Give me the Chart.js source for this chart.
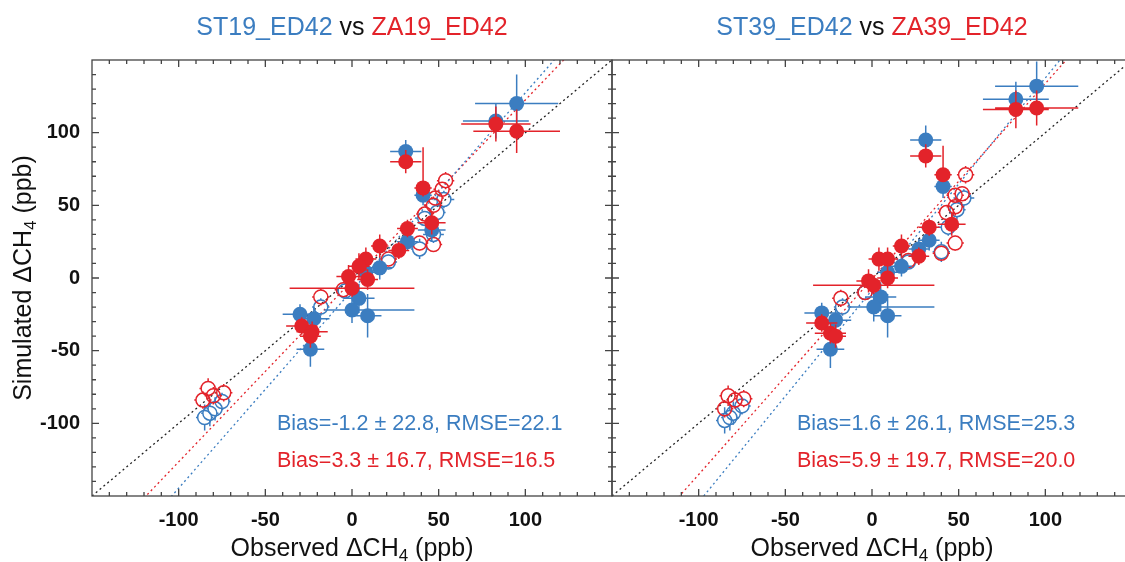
<!DOCTYPE html>
<html>
<head>
<meta charset="utf-8">
<script src="https://cdn.jsdelivr.net/npm/chart.js@4"></script>
<style>
  body { margin: 0; background: #fff; }
  #wrap { position: relative; width: 1125px; height: 562px; overflow: hidden; background: #fff; }
  canvas { position: absolute; top: 0; }
</style>
</head>
<body>
<div id="wrap">
  <canvas id="left" width="614" height="562" style="left:0"></canvas>
  <canvas id="right" width="522" height="562" style="left:611px"></canvas>
</div>
<script>
var BLUE = '#3b7dc0';
var RED = '#e3232a';
var FONT = '"Liberation Sans", Arial, sans-serif';

var tickValues = [-100, -50, 0, 50, 100];

// each point: [observed, simulated, xErr, yErr]; an error written as [lo, hi] is asymmetric
var st19Filled = [
  [95, 120, 24, 20], [83, 108, 19, 12], [31, 87, 9, 8], [41, 57, 5, 7], [46, 33, 8, 8],
  [32, 25, 6, 6], [16, 7, 7, 8], [8, 4, 6, 6], [4, -14, 9, 10], [0, -22, [16, 36], 9],
  [9, -26, 8, 15], [-30, -25, 10, 7], [-22, -28, 9, 8], [-24, -49, 8, 12]
];
var za19Filled = [
  [83, 106, 20, 12], [95, 101, 25, 15], [31, 80, 9, 8], [41, 62, 5, [6, 28]], [46, 38, 8, 8],
  [32, 34, 6, 6], [27, 19, 6, 6], [16, 22, 5, 8], [8, 13, 6, 8], [4, 8, 6, 9],
  [-2, 1, 7, 8], [0, -7, 36, 6], [9, -1, 6, 7], [-29, -33, 9, 6], [-23, -37, 9, 7], [-24, -40, 6, 8]
];
var st19Open = [
  [53, 54, 6, 6], [49, 45, 5, 7], [47, 30, 6, 6], [39, 20, 5, 7], [42, 41, 5, 5],
  [21, 11, 5, 5], [-4, -9, 5, 5], [-18, -20, 5, 6], [-75, -85, 5, 6], [-79, -90, 5, 8],
  [-82, -93, 5, 9], [-85, -96, 5, 9]
];
var za19Open = [
  [54, 67, 5, 6], [52, 61, 5, 5], [48, 55, 5, 5], [47, 50, 5, 6], [42, 44, 5, 5],
  [39, 24, 5, 5], [47, 23, 5, 5], [21, 13, 5, 5], [-5, -8, 5, 5], [-18, -13, 5, 6],
  [-83, -76, 5, 7], [-74, -79, 5, 6], [-80, -81, 5, 6], [-86, -84, 5, 6]
];

var st39Filled = [
  [95, 132, 24, 17], [83, 123, 19, 12], [31, 95, 9, 10], [41, 63, 5, 8], [33, 26, 6, 7],
  [27, 20, 6, 7], [17, 8, 6, 7], [9, 4, 6, 7], [5, -13, 9, 10], [1, -20, [15, 35], 10],
  [9, -26, 8, 15], [-29, -24, 10, 7], [-21, -29, 9, 8], [-24, -49, 8, 13]
];
var za39Filled = [
  [83, 116, 19, 13], [95, 117, 24, 12], [31, 84, 9, 8], [41, 71, 5, [5, 20]], [33, 35, 6, 6],
  [46, 37, 8, 8], [17, 22, 5, 8], [27, 15, 6, 6], [4, 13, 6, 8], [9, 13, 6, 8],
  [-2, -2, 7, 8], [1, -5, 35, 6], [9, 0, 6, 7], [-29, -31, 9, 6], [-24, -38, 9, 7], [-21, -40, 6, 8]
];
var st39Open = [
  [53, 55, 6, 6], [49, 47, 5, 7], [44, 35, 6, 6], [40, 18, 5, 7], [21, 11, 5, 5],
  [-4, -10, 5, 5], [-17, -20, 5, 6], [-75, -88, 5, 6], [-80, -93, 5, 8], [-82, -96, 5, 9],
  [-85, -98, 5, 9]
];
var za39Open = [
  [54, 71, 5, 6], [52, 58, 5, 5], [48, 57, 5, 5], [48, 49, 5, 6], [43, 45, 5, 5],
  [48, 24, 5, 5], [40, 17, 5, 5], [21, 12, 5, 5], [-4, -10, 5, 5], [-18, -14, 5, 6],
  [-83, -81, 5, 7], [-74, -83, 5, 6], [-79, -84, 5, 6], [-85, -90, 5, 6]
];

// regression lines [ST, ZA]
var slopes19 = [1.36, 1.245];
var intercepts19 = [-8.6, -2.0];
var slopes39 = [1.46, 1.345];
var intercepts39 = [-8.3, -0.7];

var stats19 = ['Bias=-1.2 \u00b1 22.8, RMSE=22.1', 'Bias=3.3 \u00b1 16.7, RMSE=16.5'];
var stats39 = ['Bias=1.6 \u00b1 26.1, RMSE=25.3', 'Bias=5.9 \u00b1 19.7, RMSE=20.0'];

function toXY(arr) {
  return arr.map(function (p) { return { x: p[0], y: p[1] }; });
}

function lineData(slope, icpt) {
  return [{ x: -150, y: slope * -150 + icpt }, { x: 150, y: slope * 150 + icpt }];
}

// error bars; for hollow markers the part inside the circle is left out
var errorBars = {
  id: 'errorBars',
  beforeDatasetDraw: function (chart, args) {
    var ds = chart.data.datasets[args.index];
    if (!ds.errs) return;
    var xs = chart.scales.x, ys = chart.scales.y, ctx = chart.ctx, a = chart.chartArea;
    var gap = ds.hollow ? ds.pointRadius : 0;
    ctx.save();
    ctx.beginPath();
    ctx.rect(a.left, a.top, a.right - a.left, a.bottom - a.top);
    ctx.clip();
    ctx.strokeStyle = ds.borderColor;
    ctx.lineWidth = 1.5;
    ctx.beginPath();
    ds.errs.forEach(function (p) {
      var ex = [].concat(p[2]), ey = [].concat(p[3]);
      var exl = ex[0], exh = ex.length > 1 ? ex[1] : ex[0];
      var eyl = ey[0], eyh = ey.length > 1 ? ey[1] : ey[0];
      var px = xs.getPixelForValue(p[0]), py = ys.getPixelForValue(p[1]);
      var x0 = xs.getPixelForValue(p[0] - exl), x1 = xs.getPixelForValue(p[0] + exh);
      var y0 = ys.getPixelForValue(p[1] - eyl), y1 = ys.getPixelForValue(p[1] + eyh);
      if (px - x0 > gap) { ctx.moveTo(x0, py); ctx.lineTo(px - gap, py); }
      if (x1 - px > gap) { ctx.moveTo(px + gap, py); ctx.lineTo(x1, py); }
      if (y0 - py > gap) { ctx.moveTo(px, y0); ctx.lineTo(px, py + gap); }
      if (py - y1 > gap) { ctx.moveTo(px, py - gap); ctx.lineTo(px, y1); }
    });
    ctx.stroke();
    ctx.restore();
  }
};

// box with inward ticks on all sides
var frame = {
  id: 'frame',
  afterDatasetsDraw: function (chart) {
    var a = chart.chartArea, xs = chart.scales.x, ys = chart.scales.y, ctx = chart.ctx;
    ctx.save();
    ctx.strokeStyle = '#444';
    ctx.lineWidth = 1.3;
    ctx.strokeRect(a.left, a.top, a.right - a.left, a.bottom - a.top);
    ctx.beginPath();
    for (var v = -140; v <= 140; v += 10) {
      var len = v % 50 === 0 ? 7 : 4;
      var px = xs.getPixelForValue(v), py = ys.getPixelForValue(v);
      ctx.moveTo(px, a.bottom); ctx.lineTo(px, a.bottom - len);
      ctx.moveTo(px, a.top); ctx.lineTo(px, a.top + len);
      ctx.moveTo(a.left, py); ctx.lineTo(a.left + len, py);
      ctx.moveTo(a.right, py); ctx.lineTo(a.right - len, py);
    }
    ctx.stroke();
    ctx.restore();
  }
};

function drawParts(ctx, parts, x, y, align) {
  var total = 0;
  parts.forEach(function (p) { ctx.font = p.font; total += ctx.measureText(p.text).width; });
  var cx = align === 'center' ? x - total / 2 : x;
  parts.forEach(function (p) {
    ctx.font = p.font;
    ctx.fillStyle = p.color;
    ctx.fillText(p.text, cx, y + (p.dy || 0));
    cx += ctx.measureText(p.text).width;
  });
}

function axisLabel(word) {
  return [
    { text: word + ' \u0394CH', font: '25px ' + FONT, color: '#111' },
    { text: '4', font: '17px ' + FONT, color: '#111', dy: 5 },
    { text: ' (ppb)', font: '25px ' + FONT, color: '#111' }
  ];
}

var texts = {
  id: 'texts',
  afterDraw: function (chart, args, opts) {
    var ctx = chart.ctx, a = chart.chartArea, xs = chart.scales.x, ys = chart.scales.y;
    var cx = xs.getPixelForValue(0);
    ctx.save();
    ctx.textBaseline = 'alphabetic';
    drawParts(ctx, [
      { text: opts.title[0], font: '25px ' + FONT, color: BLUE },
      { text: ' vs ', font: '25px ' + FONT, color: '#111' },
      { text: opts.title[1], font: '25px ' + FONT, color: RED }
    ], cx, 35, 'center');
    drawParts(ctx, axisLabel('Observed'), cx, 556, 'center');
    drawParts(ctx, [{ text: opts.stats[0], font: '21.5px ' + FONT, color: BLUE }], a.left + 185, 430, 'left');
    drawParts(ctx, [{ text: opts.stats[1], font: '21.5px ' + FONT, color: RED }], a.left + 185, 467, 'left');
    if (opts.yTitle) {
      ctx.translate(31, ys.getPixelForValue(0));
      ctx.rotate(-Math.PI / 2);
      drawParts(ctx, axisLabel('Simulated'), 0, 0, 'center');
    }
    ctx.restore();
  }
};

function makePanel(id, cfg) {
  var fitStyle = { type: 'line', showLine: true, pointRadius: 0, borderWidth: 1.3, borderDash: [2, 3], fill: false, order: 10 };
  var datasets = [
    Object.assign({ data: [{ x: -150, y: -150 }, { x: 150, y: 150 }], borderColor: '#222' }, fitStyle),
    Object.assign({ data: lineData(cfg.slopes[0], cfg.intercepts[0]), borderColor: BLUE }, fitStyle),
    Object.assign({ data: lineData(cfg.slopes[1], cfg.intercepts[1]), borderColor: RED }, fitStyle),
    { data: toXY(cfg.stOpen), errs: cfg.stOpen, hollow: true, borderColor: BLUE, backgroundColor: 'rgba(255,255,255,0)', pointRadius: 7, borderWidth: 1.5, order: 4 },
    { data: toXY(cfg.zaOpen), errs: cfg.zaOpen, hollow: true, borderColor: RED, backgroundColor: 'rgba(255,255,255,0)', pointRadius: 7, borderWidth: 1.5, order: 3 },
    { data: toXY(cfg.stFilled), errs: cfg.stFilled, borderColor: BLUE, backgroundColor: BLUE, pointRadius: 7.5, borderWidth: 0, order: 2 },
    { data: toXY(cfg.zaFilled), errs: cfg.zaFilled, borderColor: RED, backgroundColor: RED, pointRadius: 7.5, borderWidth: 0, order: 1 }
  ];
  return new Chart(document.getElementById(id), {
    type: 'scatter',
    data: { datasets: datasets },
    options: {
      responsive: false,
      animation: false,
      layout: { padding: cfg.padding, autoPadding: false },
      plugins: {
        legend: { display: false },
        tooltip: { enabled: false },
        texts: { title: cfg.title, stats: cfg.stats, yTitle: cfg.yTitle }
      },
      scales: {
        x: {
          type: 'linear', min: -150, max: 150,
          grid: { display: false, drawTicks: false, tickLength: 0 },
          border: { display: false },
          afterFit: function (s) { s.height = 66; s.paddingLeft = 0; s.paddingRight = 0; },
          ticks: {
            stepSize: 50, autoSkip: false, maxRotation: 0, padding: 12, color: '#111',
            font: { family: FONT, size: 20, weight: 'bold' },
            callback: function (v) { return tickValues.indexOf(v) >= 0 ? String(v) : ''; }
          }
        },
        y: {
          type: 'linear', min: -150, max: 150, display: cfg.yTitle,
          grid: { display: false, drawTicks: false, tickLength: 0 },
          border: { display: false },
          afterFit: function (s) { s.width = cfg.yTitle ? 92 : 0; s.paddingTop = 0; s.paddingBottom = 0; },
          ticks: {
            stepSize: 50, autoSkip: false, padding: 12, color: '#111',
            font: { family: FONT, size: 20, weight: 'bold' },
            callback: function (v) { return tickValues.indexOf(v) >= 0 ? String(v) : ''; }
          }
        }
      }
    },
    plugins: [errorBars, frame, texts]
  });
}

makePanel('left', {
  title: ['ST19_ED42', 'ZA19_ED42'], stats: stats19, yTitle: true,
  slopes: slopes19, intercepts: intercepts19,
  stFilled: st19Filled, zaFilled: za19Filled, stOpen: st19Open, zaOpen: za19Open,
  padding: { top: 60, right: 2, left: 0, bottom: 0 }
});

makePanel('right', {
  title: ['ST39_ED42', 'ZA39_ED42'], stats: stats39, yTitle: false,
  slopes: slopes39, intercepts: intercepts39,
  stFilled: st39Filled, zaFilled: za39Filled, stOpen: st39Open, zaOpen: za39Open,
  padding: { top: 60, right: 1, left: 1, bottom: 0 }
});
</script>
</body>
</html>
